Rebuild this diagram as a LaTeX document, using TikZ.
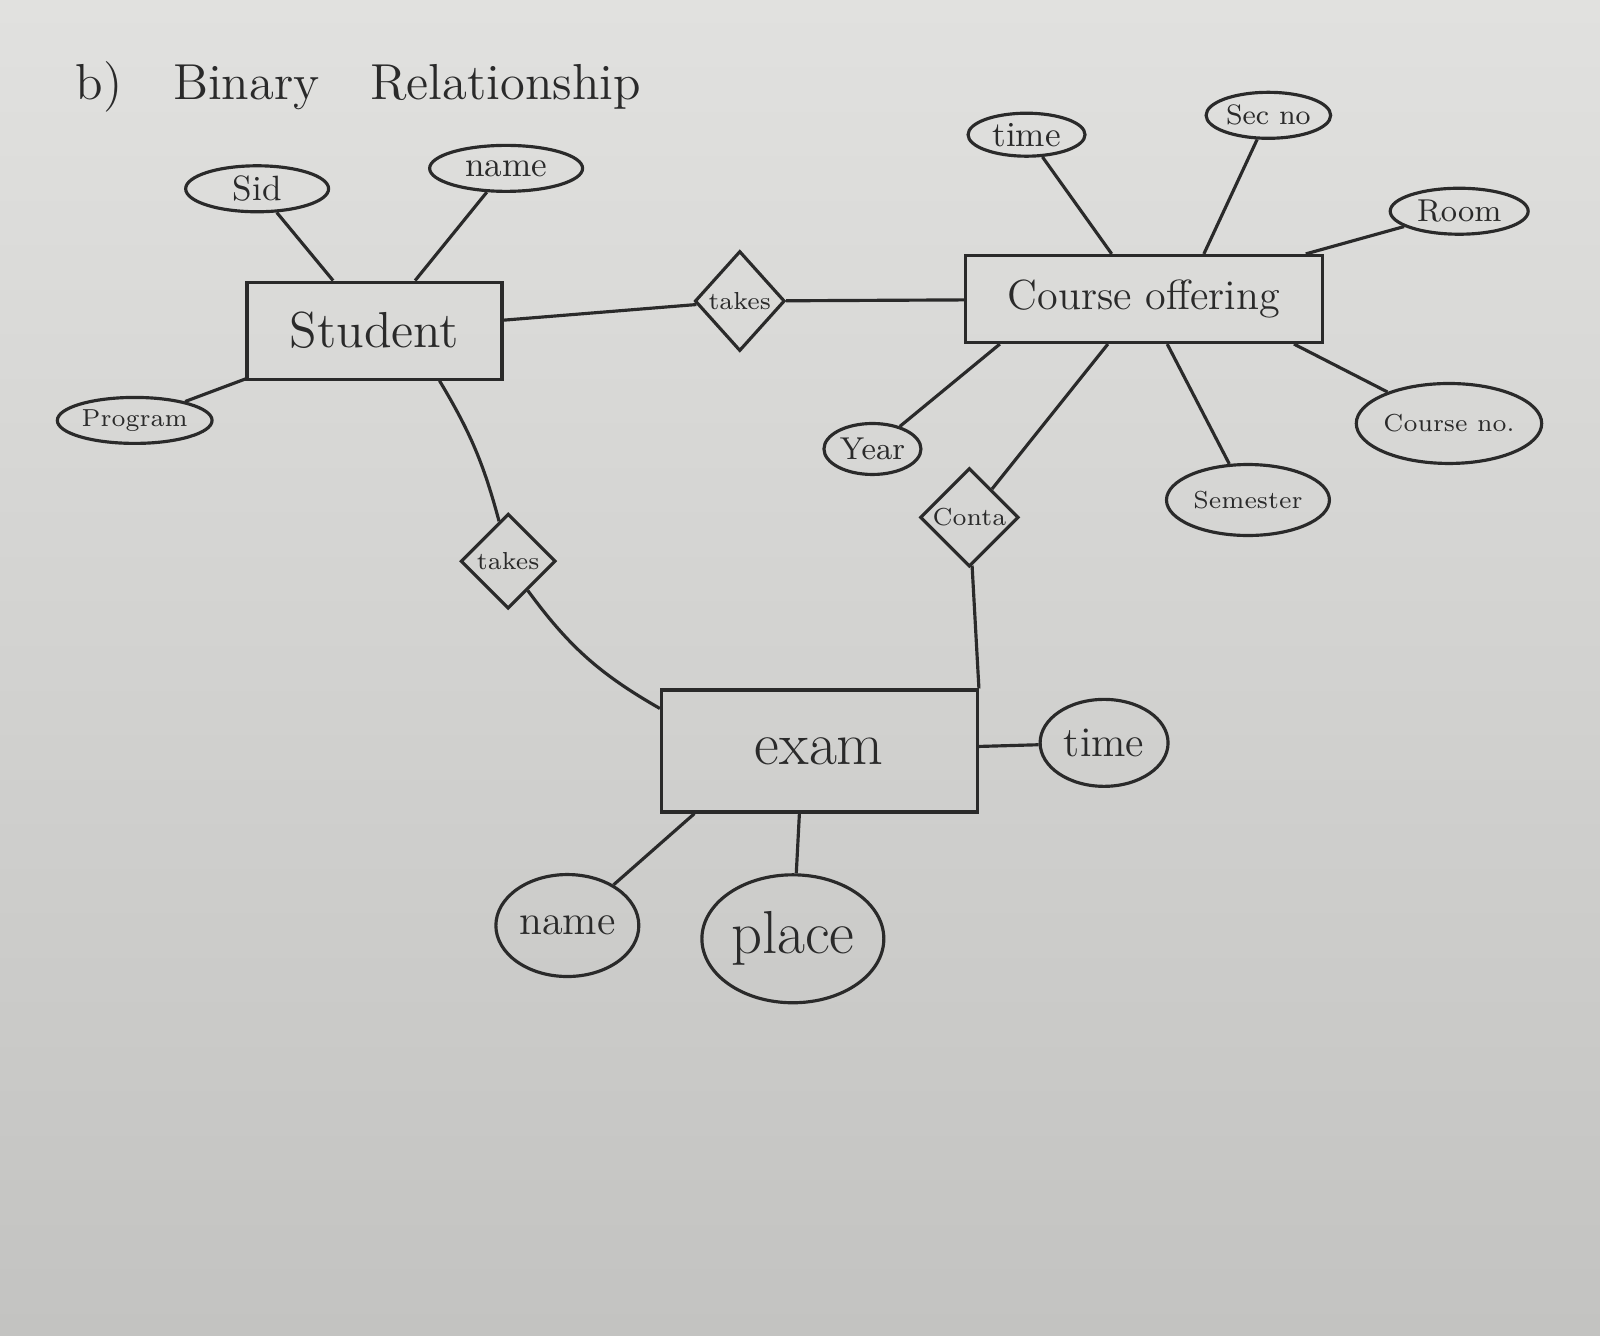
\documentclass[tikz,border=0pt]{standalone}
\usepackage{tikz}
\usetikzlibrary{calc,positioning,shapes,shapes.geometric}
\definecolor{ink}{HTML}{2A2A2A}
\definecolor{paperA}{HTML}{E1E1DF}
\definecolor{paperB}{HTML}{C3C3C1}
\tikzstyle{entity}   = [rectangle, draw=ink, line width=0.9pt, inner sep=2pt, text centered, text=ink]
\tikzstyle{attrib}   = [ellipse, draw=ink, line width=0.9pt, inner sep=0.5pt, text centered, text=ink]
\tikzstyle{relation} = [diamond, draw=ink, line width=0.9pt, inner sep=0.5pt, aspect=1, font=\scriptsize, text=ink]
\tikzstyle{link}     = [draw=ink, line width=0.9pt]

\begin{document}
\begin{tikzpicture}[x=0.010204cm, y=-0.010204cm]
    \fill[top color=paperA, bottom color=paperB] (0,0) rectangle (1568,1309);
    \useasboundingbox (0,0) rectangle (1568,1309);

    \node[anchor=west, font=\Large, text=ink] (title) at (62,85) {b)\quad Binary\quad Relationship};

    \node[entity, minimum width=2.55cm, minimum height=0.97cm, font=\Large] (student) at (367,324) {Student};
    \node[entity, minimum width=3.57cm, minimum height=0.87cm, font=\large] (courseoff) at (1121,293) {Course offering};
    \node[entity, minimum width=3.16cm, minimum height=1.22cm, font=\LARGE] (exam) at (803,736) {exam};

    \node[relation, minimum width=0.9cm, minimum height=1.0cm] (takesA) at (725,295) {takes};
    \node[relation, minimum size=0.95cm] (takesB) at (498,550) {takes};
    \node[relation, minimum width=0.87cm, minimum height=0.82cm] (conta) at (950,507) {Conta};

    \node[attrib, minimum width=1.43cm, minimum height=0.46cm] (sid) at (252,185) {Sid};
    \node[attrib, minimum width=1.53cm, minimum height=0.46cm] (sname) at (496,165) {name};
    \node[attrib, minimum width=1.22cm, minimum height=0.46cm, font=\scriptsize] (program) at (132,412) {Program};
    \node[attrib, minimum width=1.17cm, minimum height=0.43cm] (ctime) at (1006,132) {time};
    \node[attrib, minimum width=1.22cm, minimum height=0.46cm, font=\footnotesize] (secno) at (1243,113) {Sec no};
    \node[attrib, minimum width=1.38cm, minimum height=0.46cm, font=\small] (room) at (1430,207) {Room};
    \node[attrib, minimum width=1.53cm, minimum height=0.80cm, inner sep=0pt, font=\scriptsize] (courseno) at (1420,415) {Course no.};
    \node[attrib, minimum width=1.63cm, minimum height=0.71cm, font=\scriptsize] (semester) at (1223,490) {Semester};
    \node[attrib, minimum width=0.97cm, minimum height=0.51cm, font=\small] (year) at (855,440) {Year};
    \node[attrib, minimum width=1.28cm, minimum height=0.87cm, font=\large] (etime) at (1082,728) {time};
    \node[attrib, minimum width=1.43cm, minimum height=1.02cm, font=\large] (ename) at (556,907) {name};
    \node[attrib, minimum width=1.82cm, minimum height=1.28cm, font=\LARGE] (place) at (777,920) {place};

    \draw[link] (sid) -- (student);
    \draw[link] (sname) -- (student);
    \draw[link] (program) -- (student);
    \draw[link] (student) -- (takesA);
    \draw[link] (takesA) -- (courseoff);
    \draw[link] (ctime) -- (courseoff);
    \draw[link] (secno) -- ([xshift=0.6cm]courseoff.north);
    \draw[link] (room) -- (courseoff);
    \draw[link] ([xshift=-0.3cm]courseoff.south east) -- (courseno);
    \draw[link] (courseoff) -- (semester);
    \draw[link] ([xshift=0.36cm]courseoff.south west) -- (year);
    \draw[link] (courseoff) -- (conta);
    \draw[link] (conta) -- (exam.north east);
    \draw[link] ([xshift=0.65cm]student.south) to[bend left=8] (takesB);
    \draw[link] (takesB) to[bend right=12] ([yshift=-0.2cm]exam.north west);
    \draw[link] (exam) -- (etime);
    \draw[link] ([xshift=-1.25cm]exam.south) -- (ename);
    \draw[link] ([xshift=-0.2cm]exam.south) -- (place);
\end{tikzpicture}
\end{document}
